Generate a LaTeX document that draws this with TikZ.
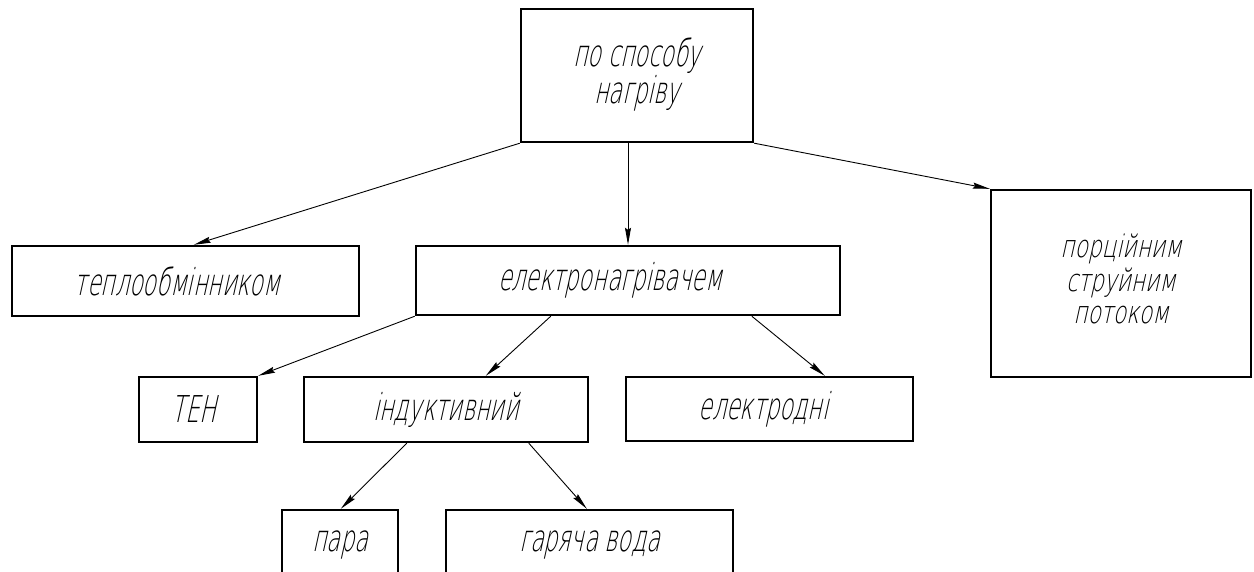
\documentclass[tikz,border=0pt]{standalone}
\usepackage{fontspec}
\newfontfamily\gost[FakeSlant=0.22,FakeStretch=0.6]{DejaVu Sans ExtraLight}
\newfontfamily\gostw[FakeSlant=0.22,FakeStretch=0.7]{DejaVu Sans ExtraLight}
\usetikzlibrary{arrows.meta,calc}
\newcommand{\lines}[2]{\raisebox{#1}{\begin{tabular}{@{}c@{}}#2\end{tabular}}}
\begin{document}
\begin{tikzpicture}[x=1pt,y=-1pt,
  box/.style={draw,line width=2.4pt,inner sep=0pt,font=\gost\fontsize{37}{32}\selectfont,align=center},
  arr/.style={line width=0.9pt,-{Stealth[length=17pt,width=6pt,inset=2pt]}}]
\useasboundingbox (0,0) rectangle (1254,571);
\node[box,minimum width=232pt,minimum height=133pt] (top) at (637,75.5) {\lines{5pt}{по способу\\нагріву}};
\node[box,minimum width=347pt,minimum height=70pt] (teplo) at (185.5,281) {теплообмінником\hspace*{16pt}};
\node[box,minimum width=424pt,minimum height=69pt] (elek) at (628,280.5) {електронагрівачем\hspace*{36pt}};
\node[box,minimum width=260pt,minimum height=187pt,font=\gostw\fontsize{31}{32}\selectfont] (porc) at (1121,283.5) {\lines{7pt}{порційним\\струйним\\потоком}};
\node[box,minimum width=118pt,minimum height=65pt] (ten) at (198,409.5) {ТЕН\hspace*{8pt}};
\node[box,minimum width=284pt,minimum height=65pt] (ind) at (446,409.5) {індуктивний};
\node[box,minimum width=287pt,minimum height=64pt] (elod) at (769.5,409) {електродні\hspace*{12pt}};
\node[box,minimum width=116pt,minimum height=70pt] (para) at (340,545) {пара};
\node[box,minimum width=287pt,minimum height=70pt] (voda) at (589.5,545) {гаряча вода};
\draw[arr] (top.south west) -- ($(teplo.north west)+(183,0)$);
\draw[arr] (elek.north |- top.south) -- (elek.north);
\draw[arr] (top.south east) -- (porc.north west);
\draw[arr] (elek.south west) -- (ten.north east);
\draw[arr] ($(elek.south west)+(136,0)$) -- ($(ind.north west)+(183,0)$);
\draw[arr] ($(elek.south west)+(337,0)$) -- ($(elod.north west)+(200,0)$);
\draw[arr] ($(ind.south west)+(104,0)$) -- ($(para.north west)+(60,0)$);
\draw[arr] ($(ind.south west)+(226,0)$) -- ($(voda.north west)+(142,0)$);
\end{tikzpicture}
\end{document}
